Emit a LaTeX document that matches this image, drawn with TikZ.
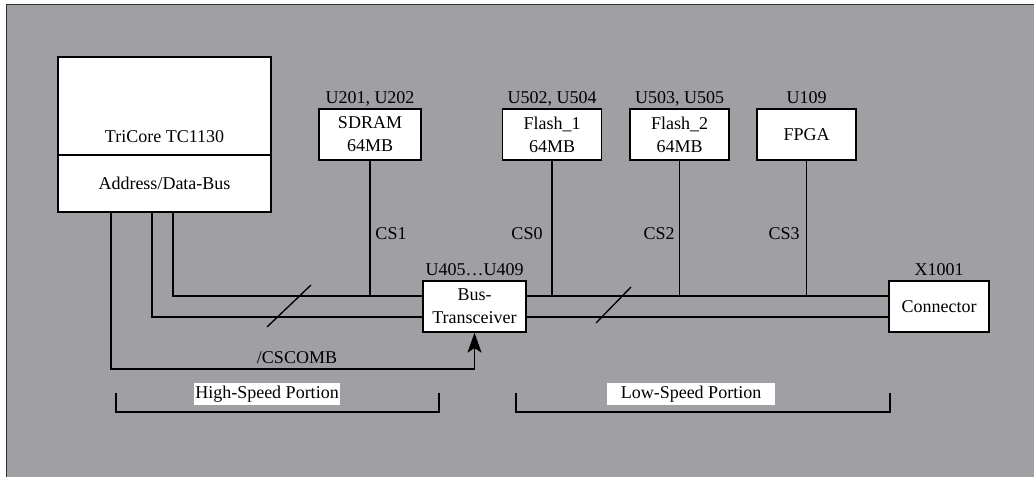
\documentclass[tikz,border=0pt]{standalone}
\usepackage{fontspec}
\setmainfont{Liberation Serif}
\usetikzlibrary{arrows.meta,calc}
\definecolor{bg}{HTML}{A09FA4}
\definecolor{fr}{HTML}{303030}
\begin{document}
\begin{tikzpicture}[x=0.75pt,y=-0.75pt,
  every node/.style={font=\fontsize{13.5}{17.25}\selectfont},
  blk/.style={draw, fill=white, line width=1pt, inner sep=0pt, align=center},
  wire/.style={line width=1pt},
  lbl/.style={inner sep=0pt},
  tag/.style={fill=white, inner sep=0pt, minimum height=22*0.75pt},
]
\useasboundingbox (0,0) rectangle (1034,477);
\clip (0,0) rectangle (1034,477);
\draw[fill=bg, draw=fr, line width=1.3pt] (6.5,4.5) rectangle (1045,490);

% blocks
\node[blk, minimum width=213*0.75pt, minimum height=155*0.75pt] (cpu) at (164.5,134.5) {};
\node[blk, minimum width=213*0.75pt, minimum height=57*0.75pt] (adb) at (164.5,183.5) {Address/Data-Bus};
\node[lbl] (cpuname) at (164.5,137) {TriCore TC1130};

\node[blk, minimum width=102*0.75pt, minimum height=51*0.75pt] (sdram) at (370,134.5) {SDRAM\\64MB};
\node[blk, minimum width=99*0.75pt, minimum height=51*0.75pt] (fl1) at (552,134.5) {Flash\_1\\64MB};
\node[blk, minimum width=99*0.75pt, minimum height=51*0.75pt] (fl2) at (679.5,134.5) {Flash\_2\\64MB};
\node[blk, minimum width=99*0.75pt, minimum height=51*0.75pt] (fpga) at (806.5,134.5) {FPGA};
\node[blk, minimum width=103*0.75pt, minimum height=51*0.75pt] (tr) at (474.5,306.5) {Bus-\\Transceiver};
\node[blk, minimum width=100*0.75pt, minimum height=51*0.75pt] (con) at (939,306.5) {Connector};

% part labels
\node[lbl, anchor=base] (sdramid) at ([yshift=5*0.75pt]sdram.north) {U201, U202};
\node[lbl, anchor=base] (fl1id) at ([yshift=5*0.75pt]fl1.north) {U502, U504};
\node[lbl, anchor=base] (fl2id) at ([yshift=5*0.75pt]fl2.north) {U503, U505};
\node[lbl, anchor=base] (fpgaid) at ([yshift=5*0.75pt]fpga.north) {U109};
\node[lbl, anchor=base] (trid) at ([yshift=5*0.75pt]tr.north) {U405…U409};
\node[lbl, anchor=base] (conid) at ([yshift=5*0.75pt]con.north) {X1001};

% bus coordinates
\coordinate (busLa) at ($(tr.west)+(0,-10.5)$);
\coordinate (busLb) at ($(tr.west)+(0,10.5)$);
\coordinate (busRa) at ($(tr.east)+(0,-10.5)$);
\coordinate (busRb) at ($(tr.east)+(0,10.5)$);
\coordinate (conA) at ($(con.west)+(0,-10.5)$);
\coordinate (conB) at ($(con.west)+(0,10.5)$);
\coordinate (cscorner) at (474.5,369);

% wires
\draw[wire] ($(adb.south)+(8.5,0)$) |- (busLa);
\draw[wire] ($(adb.south)+(-12.5,0)$) |- (busLb);
\draw[wire, -{Stealth[length=15pt, width=10.5pt, inset=3.5pt]}] ($(adb.south)+(-53.5,0)$) |- (cscorner) -- (tr.south);
\draw[wire] (busRa) -- (conA);
\draw[wire] (busRb) -- (conB);
\draw[wire] (sdram.south) -- (sdram.south |- busLa);
\draw[wire] (fl1.south) -- (fl1.south |- busRa);
\draw[wire] (fl2.south) -- (fl2.south |- busRa);
\draw[wire] (fpga.south) -- (fpga.south |- busRa);

% bus width slashes
\draw[wire] (267,327) -- (311,285);
\draw[wire] (596,323) -- (631,287);

% signal labels
\node[lbl] (cs1) at (391,234) {CS1};
\node[lbl] (cs0) at (527,234) {CS0};
\node[lbl] (cs2) at (659,234) {CS2};
\node[lbl] (cs3) at (784,234) {CS3};
\node[lbl] (cscomb) at (297,358) {/CSCOMB};

% portions
\draw[wire] (116,393) |- (439,412) -- (439,393);
\draw[wire] (516,393) |- (890,412) -- (890,393);
\node[tag, minimum width=146*0.75pt] (hs) at (267,394) {High-Speed Portion};
\node[tag, minimum width=168*0.75pt] (ls) at (691,394) {Low-Speed Portion};
\end{tikzpicture}
\end{document}
